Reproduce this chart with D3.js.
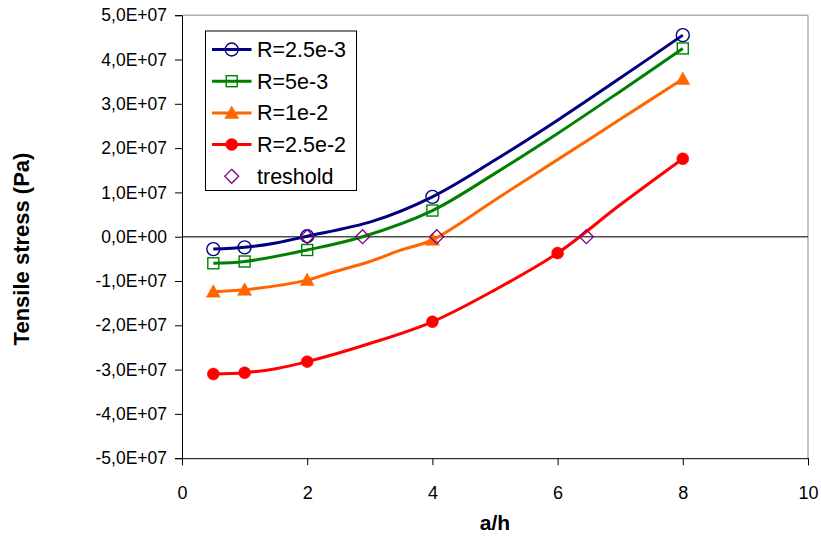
<!DOCTYPE html>
<html>
<head>
<meta charset="utf-8">
<script src="https://cdn.jsdelivr.net/npm/d3@7"></script>
<style>
  body { margin: 0; background: #fff; }
  svg { display: block; }
  text { font-family: Arial, "Liberation Sans", sans-serif; fill: #000; }
</style>
</head>
<body>
<svg id="chart" width="821" height="539"></svg>
<script>
// ---------------- data ----------------
const xTicks = [0, 2, 4, 6, 8, 10];
const xTickLabels = ["0", "2", "4", "6", "8", "10"];
const yTicks = [5e7, 4e7, 3e7, 2e7, 1e7, 0, -1e7, -2e7, -3e7, -4e7, -5e7];
const yTickLabels = ["5,0E+07", "4,0E+07", "3,0E+07", "2,0E+07", "1,0E+07", "0,0E+00",
                     "-1,0E+07", "-2,0E+07", "-3,0E+07", "-4,0E+07", "-5,0E+07"];
const xTitle = "a/h";
const yTitle = "Tensile stress (Pa)";

const seriesNames = ["R=2.5e-3", "R=5e-3", "R=1e-2", "R=2.5e-2"];
const thresholdName = "treshold";

// curve points (a/h, stress in Pa)
const blueX   = [0.5, 1, 1.5, 2, 3.05, 4, 5, 6, 7, 8];
const blueY   = [-2.8e6, -2.4e6, -1.4e6, 0.1e6, 3.5e6, 9.0e6, 17.3e6, 26.3e6, 35.8e6, 45.5e6];
const greenX  = [0.5, 1, 2, 2.885, 4, 5, 6, 7, 8];
const greenY  = [-6.0e6, -5.6e6, -3.0e6, 0, 5.9e6, 14.3e6, 23.3e6, 32.8e6, 42.5e6];
const orangeX = [0.5, 1, 2, 2.34, 3, 3.48, 4, 5, 6, 7, 8];
const orangeY = [-12.4e6, -12.0e6, -9.8e6, -8.3e6, -5.6e6, -3.1e6, -0.7e6, 8.3e6, 17.4e6, 26.5e6, 35.6e6];
const redX    = [0.5, 1, 1.5, 2, 3, 4, 5, 6, 7, 8];
const redY    = [-31.0e6, -30.7e6, -29.8e6, -28.2e6, -24.1e6, -19.2e6, -12.0e6, -3.7e6, 7.2e6, 17.6e6];

// positions carrying a marker
const blueMarkX   = [0.5, 1, 2, 4, 8];
const greenMarkX  = [0.5, 1, 2, 4, 8];
const orangeMarkX = [0.5, 1, 2, 4, 8];
const redMarkX    = [0.5, 1, 2, 4, 6, 8];

// threshold points
const thresholdX = [2.0, 2.885, 4.07, 6.46];
const thresholdY = [0, 0, 0, 0];

// ---------------- styles ----------------
const styles = [
  { color: "#000080", marker: "circleOpen" },
  { color: "#008000", marker: "squareOpen" },
  { color: "#FF6600", marker: "triangle" },
  { color: "#FF0000", marker: "circleFilled" }
];
const thresholdColor = "#800080";

const series = [
  { name: seriesNames[0], xs: blueX,   ys: blueY,   mx: blueMarkX },
  { name: seriesNames[1], xs: greenX,  ys: greenY,  mx: greenMarkX },
  { name: seriesNames[2], xs: orangeX, ys: orangeY, mx: orangeMarkX },
  { name: seriesNames[3], xs: redX,    ys: redY,    mx: redMarkX }
].map((s, i) => {
  const pts = s.xs.map((x, j) => ({ x, y: s.ys[j] }));
  return { ...s, ...styles[i], pts, marks: pts.filter(p => s.mx.includes(p.x)) };
});
const thresholds = thresholdX.map((x, i) => ({ x, y: thresholdY[i] }));

// ---------------- layout ----------------
const svg = d3.select("#chart");
const plot = { left: 182, right: 808, top: 15.2, bottom: 458.2 };
const x = d3.scaleLinear().domain([0, 10]).range([plot.left, plot.right]);
const y = d3.scaleLinear().domain([-5e7, 5e7]).range([plot.bottom, plot.top]);

// plot frame (top & right grey)
svg.append("path")
  .attr("d", `M${plot.left},${plot.top}H${plot.right}V${plot.bottom}`)
  .attr("fill", "none").attr("stroke", "#8c8c8c").attr("stroke-width", 1);

// zero line
svg.append("line")
  .attr("x1", plot.left).attr("x2", plot.right)
  .attr("y1", y(0)).attr("y2", y(0))
  .attr("stroke", "#4d4d4d").attr("stroke-width", 1.6);

// y axis
const yAxis = d3.axisLeft(y).tickValues(yTicks).tickSize(7).tickPadding(8)
  .tickFormat((d, i) => yTickLabels[i]);
const gy = svg.append("g").attr("transform", `translate(${plot.left},0)`).call(yAxis);
gy.select(".domain").attr("stroke", "#000").attr("stroke-width", 1);
gy.selectAll(".tick line").attr("stroke", "#000");
gy.selectAll(".tick text").attr("font-size", 17.5)
  .attr("font-family", "Arial, 'Liberation Sans', sans-serif").attr("fill", "#000");

// x axis
const xAxis = d3.axisBottom(x).tickValues(xTicks).tickSize(7).tickPadding(21)
  .tickFormat((d, i) => xTickLabels[i]);
const gx = svg.append("g").attr("transform", `translate(0,${plot.bottom})`).call(xAxis);
gx.select(".domain").attr("stroke", "#000").attr("stroke-width", 1);
gx.selectAll(".tick line").attr("stroke", "#000");
gx.selectAll(".tick text").attr("font-size", 18)
  .attr("font-family", "Arial, 'Liberation Sans', sans-serif").attr("fill", "#000");

// axis titles
svg.append("text").attr("x", (plot.left + plot.right) / 2).attr("y", 530)
  .attr("text-anchor", "middle").attr("font-size", 21).attr("font-weight", "bold").text(xTitle);
svg.append("text").attr("transform", "translate(29,249) rotate(-90)")
  .attr("text-anchor", "middle").attr("font-size", 22).attr("font-weight", "bold").text(yTitle);

// lines
const line = d3.line().x(d => x(d.x)).y(d => y(d.y)).curve(d3.curveCatmullRom.alpha(0.5));
svg.append("g").selectAll("path").data(series).join("path")
  .attr("d", d => line(d.pts))
  .attr("fill", "none").attr("stroke", d => d.color).attr("stroke-width", 3)
  .attr("stroke-linejoin", "round");

// marker drawing
function drawMarker(g, type, color, cx, cy) {
  if (type === "circleOpen") {
    g.append("circle").attr("cx", cx).attr("cy", cy).attr("r", 6.5)
      .attr("fill", "none").attr("stroke", color).attr("stroke-width", 1.4);
  } else if (type === "squareOpen") {
    g.append("rect").attr("x", cx - 5.5).attr("y", cy - 5.5).attr("width", 11).attr("height", 11)
      .attr("fill", "none").attr("stroke", color).attr("stroke-width", 1.4);
  } else if (type === "triangle") {
    g.append("path").attr("d", `M${cx},${cy - 7}L${cx + 7},${cy + 5.5}L${cx - 7},${cy + 5.5}Z`)
      .attr("fill", color).attr("stroke", color).attr("stroke-width", 0.5);
  } else if (type === "circleFilled") {
    g.append("circle").attr("cx", cx).attr("cy", cy).attr("r", 6)
      .attr("fill", color).attr("stroke", color).attr("stroke-width", 0.5);
  } else if (type === "diamond") {
    g.append("path").attr("d", `M${cx},${cy - 7}L${cx + 7},${cy}L${cx},${cy + 7}L${cx - 7},${cy}Z`)
      .attr("fill", "none").attr("stroke", color).attr("stroke-width", 1.3);
  }
}

const gm = svg.append("g");
series.forEach(s => s.marks.forEach(p => drawMarker(gm, s.marker, s.color, x(p.x), y(p.y))));
thresholds.forEach(p => drawMarker(gm, "diamond", thresholdColor, x(p.x), y(p.y)));

// legend
const lg = svg.append("g");
lg.append("rect").attr("x", 205.5).attr("y", 31).attr("width", 151).attr("height", 159.5)
  .attr("fill", "#fff").attr("stroke", "#000").attr("stroke-width", 1);
const legendItems = series.map(s => ({ name: s.name, color: s.color, marker: s.marker, line: true }))
  .concat([{ name: thresholdName, color: thresholdColor, marker: "diamond", line: false }]);
legendItems.forEach((it, i) => {
  const cy = 49.5 + i * 31.7;
  if (it.line) {
    lg.append("line").attr("x1", 212).attr("x2", 251.5).attr("y1", cy).attr("y2", cy)
      .attr("stroke", it.color).attr("stroke-width", 3);
  }
  drawMarker(lg, it.marker, it.color, 231.7, cy);
  lg.append("text").attr("x", 257).attr("y", cy + 7.5).attr("font-size", 21.5).text(it.name);
});
</script>
</body>
</html>
